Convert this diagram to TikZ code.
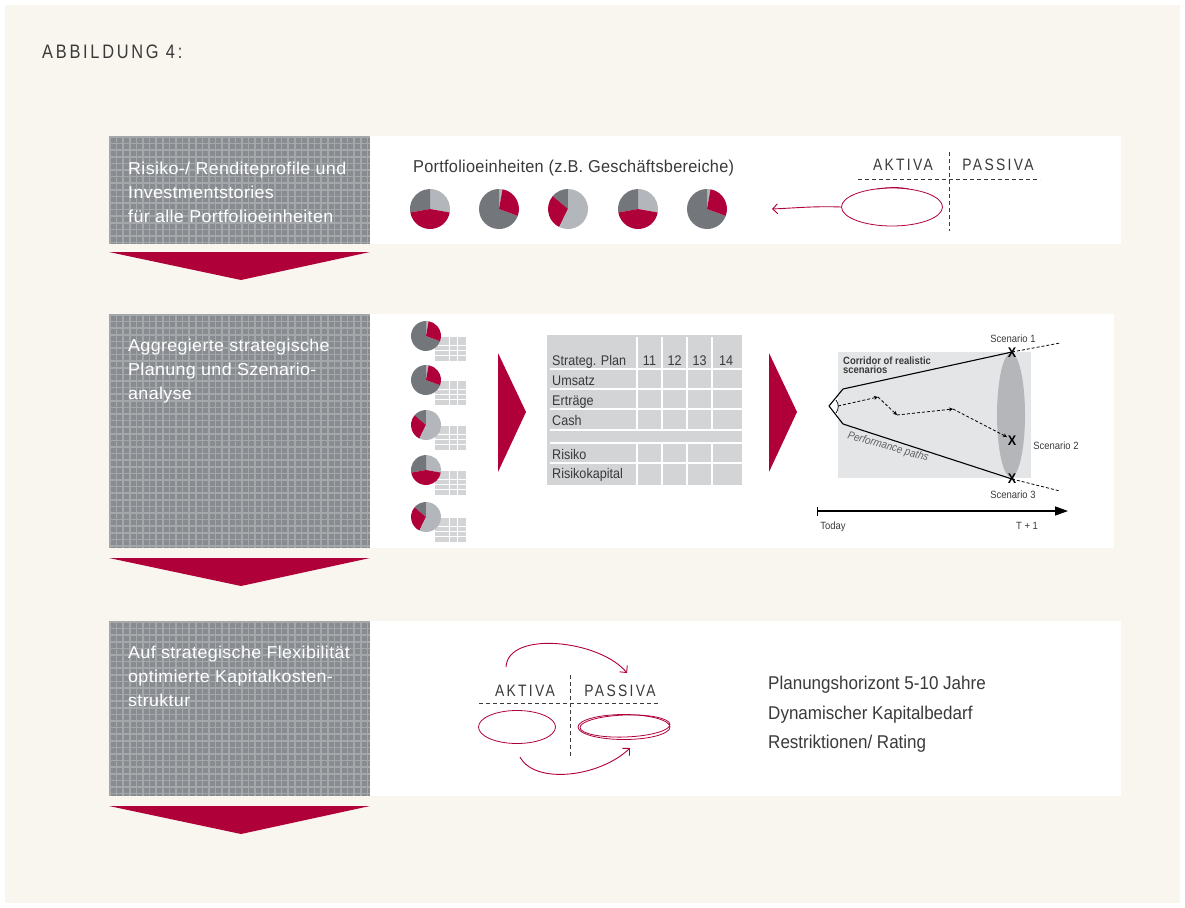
\documentclass[tikz,border=0pt]{standalone}
\usepackage{fontspec}
\setmainfont[FakeStretch=0.9]{Liberation Sans}
\newfontfamily\spacedfont[FakeStretch=0.84,LetterSpace=14]{Liberation Sans}
\newfontfamily\labelfont[FakeStretch=1.04,LetterSpace=2]{Liberation Sans}
\newfontfamily\headfont[FakeStretch=0.95,LetterSpace=1.5]{Liberation Sans}
\newfontfamily\listfont[FakeStretch=0.92]{Liberation Sans}
\usetikzlibrary{arrows.meta,shapes.geometric}

\definecolor{cream}{HTML}{F9F6EF}
\definecolor{crimson}{HTML}{B00039}
\definecolor{pielight}{HTML}{B3B7BB}
\definecolor{piedark}{HTML}{73777B}
\definecolor{boxbase}{HTML}{888C90}
\definecolor{boxline}{HTML}{A5A8AB}
\definecolor{txt}{HTML}{3A3A3A}
\definecolor{tablegray}{HTML}{D2D4D6}
\definecolor{corridor}{HTML}{E4E5E6}
\definecolor{lens}{HTML}{B4B6B9}

% one pie wedge: centre, radius, from angle, to angle (screen angles), colour
\newcommand\wedgefill[5]{%
  \fill[#5] (#1) -- ++({-(#3)}:#2) arc[start angle={-(#3)}, end angle={-(#4)}, radius=#2] -- cycle;}
\newcommand\pieA[2]{%
  \wedgefill{#1}{#2}{-10}{90}{pielight}\wedgefill{#1}{#2}{90}{190}{piedark}\wedgefill{#1}{#2}{190}{350}{crimson}}
\newcommand\pieB[2]{%
  \wedgefill{#1}{#2}{80}{90}{pielight}\wedgefill{#1}{#2}{90}{340}{piedark}\wedgefill{#1}{#2}{-20}{80}{crimson}}
\newcommand\pieC[2]{%
  \wedgefill{#1}{#2}{90}{140}{piedark}\wedgefill{#1}{#2}{140}{244}{crimson}\wedgefill{#1}{#2}{244}{450}{pielight}}
% textured grey label box
\newcommand\graybox[4]{%
  \begin{scope}
    \clip (#1,#2) rectangle (#3,#4);
    \fill[boxbase] (#1,#2) rectangle (#3,#4);
    \foreach \gx in {1,7.6,...,270} \draw[boxline,line width=1.6] ({#1+\gx},#2) -- ({#1+\gx},#4);
    \foreach \gy in {1,7.6,...,240} \draw[boxline,line width=1.6] (#1,{#2+\gy}) -- (#3,{#2+\gy});
  \end{scope}}
% small grid table behind the row-2 pies
\newcommand\minitable[1]{%
  \fill[tablegray] (435,#1+1) rectangle (466,#1+25);
  \draw[white,line width=0.9] (449,#1+1) -- (449,#1+25) (457,#1+1) -- (457,#1+25)
     (435,#1+9) -- (466,#1+9) (435,#1+14) -- (466,#1+14) (435,#1+19) -- (466,#1+19);}

\begin{document}
\begin{tikzpicture}[x=1pt,y=-1pt,
  boxtext/.style={anchor=base west,inner sep=0,text=white,font=\labelfont\fontsize{17.2}{20}\selectfont},
  bodytext/.style={anchor=base west,inner sep=0,text=txt,font=\headfont\fontsize{17.2}{20}\selectfont},
  sidetext/.style={anchor=base west,inner sep=0,text=txt,font=\listfont\fontsize{18.5}{22}\selectfont},
  acct/.style={anchor=base,inner sep=0,text=txt,font=\spacedfont\fontsize{16.5}{20}\selectfont},
  tabtext/.style={anchor=base west,inner sep=0,text=txt,font=\fontsize{14}{16}\selectfont},
  tabnum/.style={anchor=base,inner sep=0,text=txt,font=\fontsize{14}{16}\selectfont},
  smalltext/.style={anchor=base,inner sep=0,text=txt,font=\fontsize{10.5}{12}\selectfont},
  tsep/.style={dashed,txt,line width=1,dash pattern=on 4pt off 3pt},
  loop/.style={ellipse,draw=crimson,line width=0.8,inner sep=0},
  redarrow/.style={crimson,line width=0.9,-{Straight Barb[length=5pt,width=10pt]}},
  xmark/.style={inner sep=0,text=black,font=\bfseries\fontsize{14}{14}\selectfont},
  pathseg/.style={dashed,dash pattern=on 3pt off 2pt,line width=0.8,-{Stealth[length=4pt,width=4pt]}}]

\useasboundingbox (0,0) rectangle (1185,907);
\fill[white] (0,0) rectangle (1185,907);
\fill[cream] (5,5) rectangle (1180,903);

\node[anchor=base west,inner sep=0,text=txt,font=\spacedfont\fontsize{19.5}{22}\selectfont] (title) at (42,59) {ABBILDUNG 4:};

% ---------- row 1 ----------
\fill[white] (370,136) rectangle (1121,244);
\graybox{109}{136}{370}{244}
\node[boxtext] (r1a) at (128,174) {Risiko-/ Renditeprofile und};
\node[boxtext] (r1b) at (128,198) {Investmentstories};
\node[boxtext] (r1c) at (128,222) {für alle Portfolioeinheiten};
\fill[crimson] (109,252) -- (370,252) -- (241,280) -- cycle;

\node[bodytext] (units) at (413,172) {Portfolioeinheiten (z.B. Geschäftsbereiche)};
\coordinate (p1) at (430,209); \coordinate (p2) at (499,209); \coordinate (p3) at (568,209);
\coordinate (p4) at (638,209); \coordinate (p5) at (707,209);
\pieA{p1}{20}\pieB{p2}{20}\pieC{p3}{20}\pieA{p4}{20}\pieB{p5}{20}

\node[acct] (akt1) at (903,170) {AKTIVA};
\node[acct] (pas1) at (998,170) {PASSIVA};
\draw[tsep] (858,179) -- (1040,179);
\draw[tsep] (949,152) -- (949,231);
\node[loop,minimum width=101,minimum height=38] (loop1) at (892,207) {};
\draw[crimson,line width=0.7] (877,189) .. controls (890,187) and (900,187) .. (909,189);
\coordinate (tip1) at (772,209);
\draw[redarrow] (loop1.west) .. controls (815,206) and (795,208) .. (tip1);

% ---------- row 2 ----------
\fill[white] (370,314) rectangle (1114,548);
\graybox{109}{314}{370}{548}
\node[boxtext] (r2a) at (128,351) {Aggregierte strategische};
\node[boxtext] (r2b) at (128,375) {Planung und Szenario-};
\node[boxtext] (r2c) at (128,399) {analyse};
\fill[crimson] (109,558) -- (370,558) -- (241,586) -- cycle;

\minitable{336}\minitable{380}\minitable{425}\minitable{470}\minitable{517}
\coordinate (q1) at (426,336); \coordinate (q2) at (426,380); \coordinate (q3) at (426,425);
\coordinate (q4) at (426,470); \coordinate (q5) at (426,517);
\pieB{q1}{15}\pieB{q2}{15}\pieC{q3}{15}\pieA{q4}{15}\pieC{q5}{15}

\fill[crimson] (498,353) -- (526,412) -- (498,472) -- cycle;
\fill[crimson] (769,353) -- (797,412) -- (769,472) -- cycle;

% planning table
\fill[tablegray] (547,335) rectangle (742,485);
\foreach \ty in {369,389,409,430,443,463} \draw[white,line width=1.4] (550,\ty) -- (742,\ty);
\foreach \tx in {637,662,687,712} \draw[white,line width=1.4] (\tx,337) -- (\tx,430) (\tx,443) -- (\tx,485);
\node[tabtext] (th) at (552,365) {Strateg. Plan};
\node[tabnum] (c11) at (649.5,365) {11};
\node[tabnum] (c12) at (674.5,365) {12};
\node[tabnum] (c13) at (699.5,365) {13};
\node[tabnum] (c14) at (726,365) {14};
\node[tabtext] (rw1) at (552,385) {Umsatz};
\node[tabtext] (rw2) at (552,405) {Erträge};
\node[tabtext] (rw3) at (552,425) {Cash};
\node[tabtext] (rw4) at (552,459) {Risiko};
\node[tabtext] (rw5) at (552,478) {Risikokapital};

% scenario corridor
\fill[corridor] (838,352) rectangle (1031,478);
\fill[lens] (1011,415) ellipse [x radius=14, y radius=62];
\coordinate (tipL) at (829,406);
\coordinate (upA) at (843,389);
\coordinate (lowA) at (843,424);
\coordinate (s1) at (1012,352);
\coordinate (s3) at (1012,479);
\draw[black,line width=1.1,line join=round] (s1) -- (upA) -- (tipL) -- (lowA) -- (s3);
\draw[black,line width=0.7] (836,400) .. controls (839,404) and (839,409) .. (836,413);
\draw[dashed,dash pattern=on 3pt off 2pt,line width=0.8] (s1) -- (1060,343);
\draw[dashed,dash pattern=on 3pt off 2pt,line width=0.8] (s3) -- (1060,491);
\coordinate (pp0) at (838,406);
\coordinate (pp1) at (878,397);
\coordinate (pp2) at (897,415);
\coordinate (pp3) at (953,409);
\coordinate (pp4) at (1007,437);
\draw[pathseg] (pp0) -- (pp1);
\draw[pathseg] (pp1) -- (pp2);
\draw[pathseg] (pp2) -- (pp3);
\draw[pathseg] (pp3) -- (pp4);
\node[xmark] (x1) at (1012,353) {X};
\node[xmark] (x2) at (1012,441) {X};
\node[xmark] (x3) at (1012,479) {X};
\node[smalltext] (sc1) at (1013,342) {Scenario 1};
\node[smalltext] (sc2) at (1056,449) {Scenario 2};
\node[smalltext] (sc3) at (1013,498) {Scenario 3};
\node[anchor=base west,inner sep=0,text=txt,font=\bfseries\fontsize{10.5}{9}\selectfont] (corr) at (843,364) {Corridor of realistic};
\node[anchor=base west,inner sep=0,text=txt,font=\bfseries\fontsize{10.5}{9}\selectfont] (corr2) at (843,373.5) {scenarios};
\node[inner sep=0,text=txt!80,rotate=-16,font=\itshape\fontsize{11}{12}\selectfont] (perf) at (888,447) {Performance paths};
\coordinate (t0) at (817,511);
\coordinate (t1) at (1068,511);
\draw[black,line width=1.3,{Bar[width=9pt]}-{Triangle[length=13pt,width=9pt]}] (t0) -- (t1);
\node[smalltext] (today) at (833,529) {Today};
\node[smalltext] (tp1) at (1027,529) {T + 1};

% ---------- row 3 ----------
\fill[white] (370,621) rectangle (1121,796);
\graybox{109}{621}{370}{796}
\node[boxtext] (r3a) at (128,658) {Auf strategische Flexibilität};
\node[boxtext] (r3b) at (128,682) {optimierte Kapitalkosten-};
\node[boxtext] (r3c) at (128,706) {struktur};
\fill[crimson] (109,806) -- (370,806) -- (241,834) -- cycle;

\node[acct] (akt2) at (525,696) {AKTIVA};
\node[acct] (pas2) at (620,696) {PASSIVA};
\draw[tsep] (479,703) -- (661,703);
\draw[tsep] (570,675) -- (570,757);
\node[loop,minimum width=77,minimum height=33] (loopL) at (517,727) {};
\node[loop,minimum width=92,minimum height=25] (loopR) at (624,727) {};
\node[loop,minimum width=90,minimum height=22,rotate=2] (loopR2) at (625,726) {};
\coordinate (a1) at (506,667);
\coordinate (a2) at (627,673);
\coordinate (b1) at (520,757);
\coordinate (b2) at (630,748);
\draw[redarrow] (a1) .. controls (508,630) and (600,640) .. (a2);
\draw[redarrow] (b1) .. controls (535,785) and (600,777) .. (b2);

\node[sidetext] (pl1) at (768,689) {Planungshorizont 5-10 Jahre};
\node[sidetext] (pl2) at (768,719) {Dynamischer Kapitalbedarf};
\node[sidetext] (pl3) at (768,748) {Restriktionen/ Rating};
\end{tikzpicture}
\end{document}
